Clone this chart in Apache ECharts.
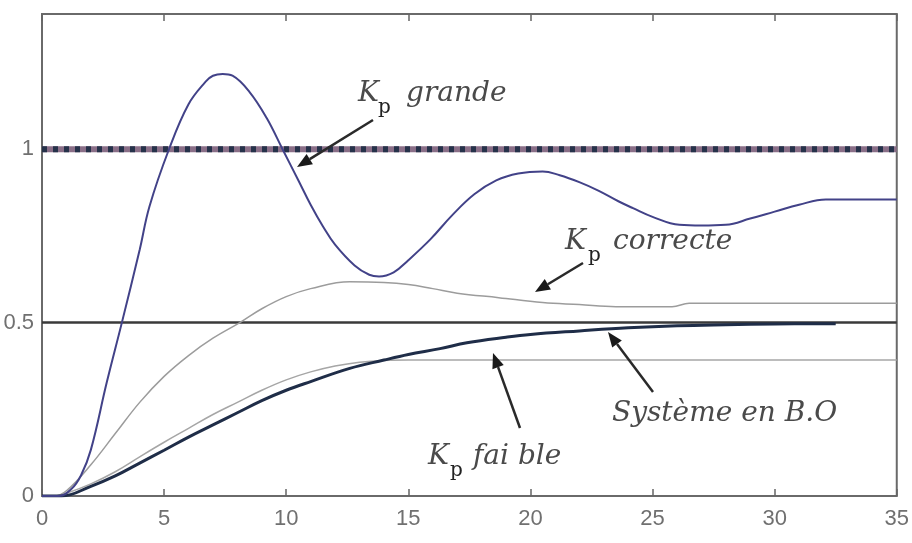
<!DOCTYPE html>
<html>
<head>
<meta charset="utf-8">
<script src="https://cdn.jsdelivr.net/npm/echarts@6/dist/echarts.min.js"></script>
<style>
  html, body { margin: 0; padding: 0; background: #fff; }
  #chart { width: 912px; height: 543px; }
</style>
</head>
<body>
<div id="chart"></div>
<script>
// step responses (time, output)
const tGrande = [0, 0.7, 1.2, 1.6, 2.0, 2.65, 3.27, 4.0, 4.4, 5.2, 6.0, 6.7, 7.0, 7.4, 7.8, 8.5, 9.2, 9.85, 10.5, 11.0, 11.5, 12.0, 12.8, 13.4, 13.8, 14.4, 15.0, 15.9, 16.8, 17.7, 18.6, 19.5, 20.5, 21.2, 22.0, 22.8, 23.6, 24.2, 25.0, 26.1, 27.0, 28.0, 29.0, 30.0, 31.0, 32.1, 33.5, 35];
const yGrande = [0, 0, 0.02, 0.06, 0.133, 0.327, 0.5, 0.71, 0.835, 1.0, 1.13, 1.195, 1.212, 1.217, 1.212, 1.165, 1.09, 1.0, 0.91, 0.84, 0.778, 0.725, 0.665, 0.638, 0.633, 0.645, 0.68, 0.74, 0.81, 0.87, 0.91, 0.93, 0.936, 0.925, 0.905, 0.88, 0.85, 0.83, 0.805, 0.782, 0.78, 0.782, 0.80, 0.82, 0.84, 0.855, 0.855, 0.855];

const tCorrecte = [0, 0.5, 1.0, 2.0, 3.0, 4.0, 5.0, 6.0, 7.0, 8.1, 9.0, 10.0, 11.0, 12.6, 14.0, 15.0, 16.0, 17.0, 18.7, 20.5, 22.0, 23.5, 25.8, 26.5, 35];
const yCorrecte = [0, 0, 0.015, 0.09, 0.18, 0.27, 0.345, 0.405, 0.455, 0.5, 0.54, 0.575, 0.598, 0.618, 0.616, 0.61, 0.598, 0.585, 0.572, 0.558, 0.552, 0.546, 0.546, 0.556, 0.556];

const tFaible = [0, 0.5, 1, 2, 3, 4, 5, 6, 7, 8, 9, 10, 11, 12, 13, 14, 15, 35];
const yFaible = [0, 0, 0.008, 0.035, 0.07, 0.113, 0.155, 0.195, 0.235, 0.27, 0.305, 0.335, 0.358, 0.375, 0.386, 0.391, 0.392, 0.392];

const tBO = [0, 0.8, 2, 3, 4, 5, 6, 7, 8, 9, 10, 11, 12.6, 14, 15, 16.3, 17.4, 19, 20, 22, 24, 26, 28, 30, 32.5];
const yBO = [0, 0, 0.028, 0.058, 0.095, 0.132, 0.17, 0.205, 0.24, 0.275, 0.305, 0.33, 0.368, 0.392, 0.408, 0.425, 0.442, 0.458, 0.466, 0.476, 0.485, 0.491, 0.494, 0.496, 0.497];

// reference levels
const tRef = [0, 35];
const yConsigne = [1, 1];
const yDemi = [0.5, 0.5];

const xTicks = [0, 5, 10, 15, 20, 25, 30, 35];
const yTicks = [0, 0.5, 1];

const zip = (xs, ys) => xs.map((x, i) => [x, ys[i]]);

const myChart = echarts.init(document.getElementById('chart'));

const labelFont = 'Liberation Sans Narrow, Arial Narrow, sans-serif';
const noteFont = 'DejaVu Serif, serif';
const noteColor = '#4a4a4a';

// annotation: K, subscript p, word
function note(x, base, word, pX, wordX) {
  return [
    { type: 'text', x: x, y: base - 8, z: 50,
      style: { text: 'K', font: 'italic 28px ' + noteFont, fill: noteColor, verticalAlign: 'middle' } },
    { type: 'text', x: pX, y: base + 6, z: 50,
      style: { text: 'p', font: '20px ' + noteFont, fill: '#222', verticalAlign: 'middle' } },
    { type: 'text', x: wordX, y: base - 8, z: 50,
      style: { text: word, font: 'italic 28px ' + noteFont, fill: noteColor, verticalAlign: 'middle' } }
  ];
}

function arrow(x1, y1, x2, y2) {
  const a = Math.atan2(y2 - y1, x2 - x1);
  const L = 15, W = 6;
  const bx = x2 - L * Math.cos(a), by = y2 - L * Math.sin(a);
  const nx = -Math.sin(a), ny = Math.cos(a);
  return [
    { type: 'line', z: 50, shape: { x1: x1, y1: y1, x2: bx, y2: by },
      style: { stroke: '#2a2a2a', lineWidth: 2.5 } },
    { type: 'polygon', z: 50,
      shape: { points: [[x2, y2], [bx + nx * W, by + ny * W], [bx - nx * W, by - ny * W]] },
      style: { fill: '#1a1a1a' } }
  ];
}

const graphics = [].concat(
  note(358, 102, 'grande', 378, 406),
  note(565, 250, 'correcte', 588, 613),
  note(428, 465, 'fai ble', 450, 473),
  [{ type: 'text', x: 612, y: 414, z: 50,
     style: { text: 'Système en B.O', font: 'italic 28px ' + noteFont, fill: noteColor, verticalAlign: 'middle' } }],
  arrow(373, 120, 297, 167),
  arrow(583, 263, 535, 292),
  arrow(520, 428, 493, 353),
  arrow(653, 392, 608, 332)
);

const curve = (name, xs, ys, color, width, z) => ({
  name: name, type: 'line', data: zip(xs, ys), symbol: 'none', smooth: 0.4, z: z,
  lineStyle: { color: color, width: width }
});

const option = {
  animation: false,
  grid: { left: 42, right: 14, top: 14, bottom: 47, show: true, borderColor: '#6a6a6a', borderWidth: 2 },
  xAxis: [{
    type: 'value', min: 0, max: 35, interval: 5,
    axisLine: { show: false },
    axisTick: { show: true, inside: true, length: 7, lineStyle: { color: '#666', width: 1.5 } },
    splitLine: { show: false },
    axisLabel: { color: '#707070', fontFamily: labelFont, fontSize: 22, margin: 12,
      formatter: v => xTicks.includes(v) ? String(v) : '' }
  }, {
    type: 'value', min: 0, max: 35, interval: 5, position: 'top',
    axisLine: { show: false },
    axisTick: { show: true, inside: true, length: 7, lineStyle: { color: '#666', width: 1.5 } },
    splitLine: { show: false },
    axisLabel: { show: false }
  }],
  yAxis: {
    type: 'value', min: 0, max: 1.39, interval: 0.5,
    axisLine: { show: false },
    axisTick: { show: false },
    splitLine: { show: false },
    axisLabel: { color: '#707070', fontFamily: labelFont, fontSize: 22, margin: 8,
      showMaxLabel: false,
      formatter: v => yTicks.includes(v) ? String(v) : '' }
  },
  series: [
    { name: 'consigne', type: 'line', data: zip(tRef, yConsigne), symbol: 'none', z: 2,
      lineStyle: { color: '#8a6f88', width: 6 } },
    { name: 'consigne-dots', type: 'line', data: zip(tRef, yConsigne), symbol: 'none', z: 3,
      lineStyle: { color: '#26324a', width: 6, type: [5, 6] } },
    { name: 'demi', type: 'line', data: zip(tRef, yDemi), symbol: 'none', z: 3,
      lineStyle: { color: '#3a3a3a', width: 2.5 } },
    curve('Kp faible', tFaible, yFaible, '#a6a6a6', 1.5, 4),
    curve('Kp correcte', tCorrecte, yCorrecte, '#9c9c9c', 1.5, 4),
    curve('B.O', tBO, yBO, '#1f2d48', 3, 5),
    curve('Kp grande', tGrande, yGrande, '#424288', 2, 6)
  ],
  graphic: graphics
};
myChart.setOption(option);
</script>
</body>
</html>
